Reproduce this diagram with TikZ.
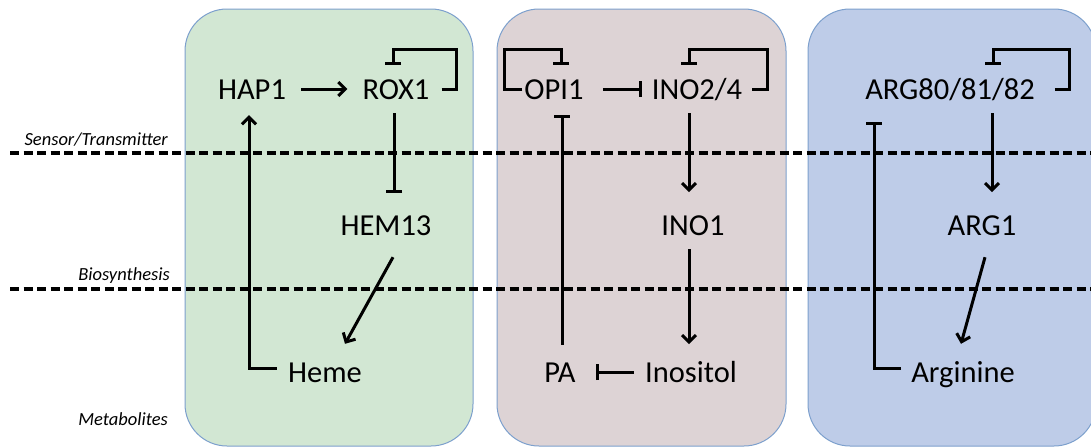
\documentclass[tikz,border=0pt]{standalone}
\usepackage{fontspec}
\setmainfont{Carlito}
\usetikzlibrary{arrows.meta}
\definecolor{hemefill}{RGB}{210,231,211}
\definecolor{inofill}{RGB}{221,211,213}
\definecolor{argfill}{RGB}{190,204,232}
\definecolor{boxline}{RGB}{125,160,205}
\tikzset{
  panel/.style={draw=boxline, line width=1pt, rounded corners=42pt},
  gene/.style={font=\fontsize{30.5}{30.5}\selectfont, inner sep=0pt, text height=20pt, text depth=0pt},
  tier/.style={font=\fontsize{18.5}{18.5}\selectfont\itshape, inner sep=0pt, anchor=east},
  divider/.style={line width=3.2pt, dash pattern=on 9pt off 4.5pt},
  act/.style={line width=3pt, -{Straight Barb[length=7pt,width=14pt,line width=3pt]}},
  inh/.style={line width=3pt, -{Bar[width=16pt,line width=3pt]}}
}
\begin{document}
\begin{tikzpicture}[x=1pt,y=-1pt]
\useasboundingbox (0,0) rectangle (1091,447);
\clip (0,0) rectangle (1091,447);

% pathway panels
\draw[panel, fill=hemefill] (185,9) rectangle (473,446);
\draw[panel, fill=inofill]  (497,9) rectangle (786,446);
\draw[panel, fill=argfill]  (808,9) rectangle (1096,446);

% tier separators and labels
\draw[divider] (10,153) -- (1091,153);
\draw[divider] (10,289) -- (1091,289);
\node[tier] (tsens) at (168,140) {Sensor/Transmitter};
\node[tier] (tbio)  at (170,276) {Biosynthesis};
\node[tier] (tmet)  at (168,419) {Metabolites};

% heme pathway
\node[gene] (hap1)  at (252,89)  {HAP1};
\node[gene] (rox1)  at (396,89)  {ROX1};
\node[gene] (hem13) at (386,225) {HEM13};
\node[gene] (heme)  at (325,372) {Heme};

\draw[act] ([xshift=15pt]hap1.east) -- ([xshift=-15pt]rox1.west);
\draw[inh] ([xshift=12pt]rox1.east) -| ++(15,-40) -| ([xshift=-3pt,yshift=14pt]rox1.north);
\draw[inh] ([xshift=-2pt,yshift=-14pt]rox1.south) -- ++(0,80);
\draw[act] ([xshift=7pt,yshift=-22pt]hem13.south) -- ([xshift=20pt,yshift=18pt]heme.north);
\draw[act] ([xshift=-11pt,yshift=4pt]heme.west) -| ([xshift=-3pt,yshift=-16pt]hap1.south);

% inositol pathway
\node[gene] (opi1)     at (554,89)  {OPI1};
\node[gene] (ino24)    at (697,89)  {INO2/4};
\node[gene] (ino1)     at (693,225) {INO1};
\node[gene] (pa)       at (560,372) {PA};
\node[gene] (inositol) at (691,372) {Inositol};

\draw[inh] ([xshift=-2pt]opi1.west) -| ++(-18,-40) -| ([xshift=7pt,yshift=14pt]opi1.north);
\draw[inh] ([xshift=19pt]opi1.east) -- ([xshift=-10pt]ino24.west);
\draw[inh] ([xshift=10pt]ino24.east) -| ++(15,-40) -| ([xshift=-8pt,yshift=14pt]ino24.north);
\draw[act] ([xshift=-8pt,yshift=-14pt]ino24.south) -- ++(0,79);
\draw[act] ([xshift=-4pt,yshift=-14pt]ino1.south) -- ++(0,95);
\draw[inh] ([xshift=-11pt]inositol.west) -- ([xshift=20pt]pa.east);
\draw[inh] ([xshift=2pt,yshift=17pt]pa.north) -- ++(0,-230);

% arginine pathway
\node[gene] (arg80)    at (950,89)  {ARG80/81/82};
\node[gene] (arg1)     at (982,225) {ARG1};
\node[gene] (arginine) at (963,372) {Arginine};

\draw[inh] ([xshift=20pt]arg80.east) -| ++(15,-40) -| ([xshift=43pt,yshift=14pt]arg80.north);
\draw[act] ([xshift=42pt,yshift=-14pt]arg80.south) -- ++(0,79);
\draw[act] ([xshift=3pt,yshift=-22pt]arg1.south) -- ([xshift=-2pt,yshift=18pt]arginine.north);
\draw[inh] ([xshift=-10pt,yshift=4pt]arginine.west) -| ([xshift=-76pt,yshift=-23pt]arg80.south);
\end{tikzpicture}
\end{document}
